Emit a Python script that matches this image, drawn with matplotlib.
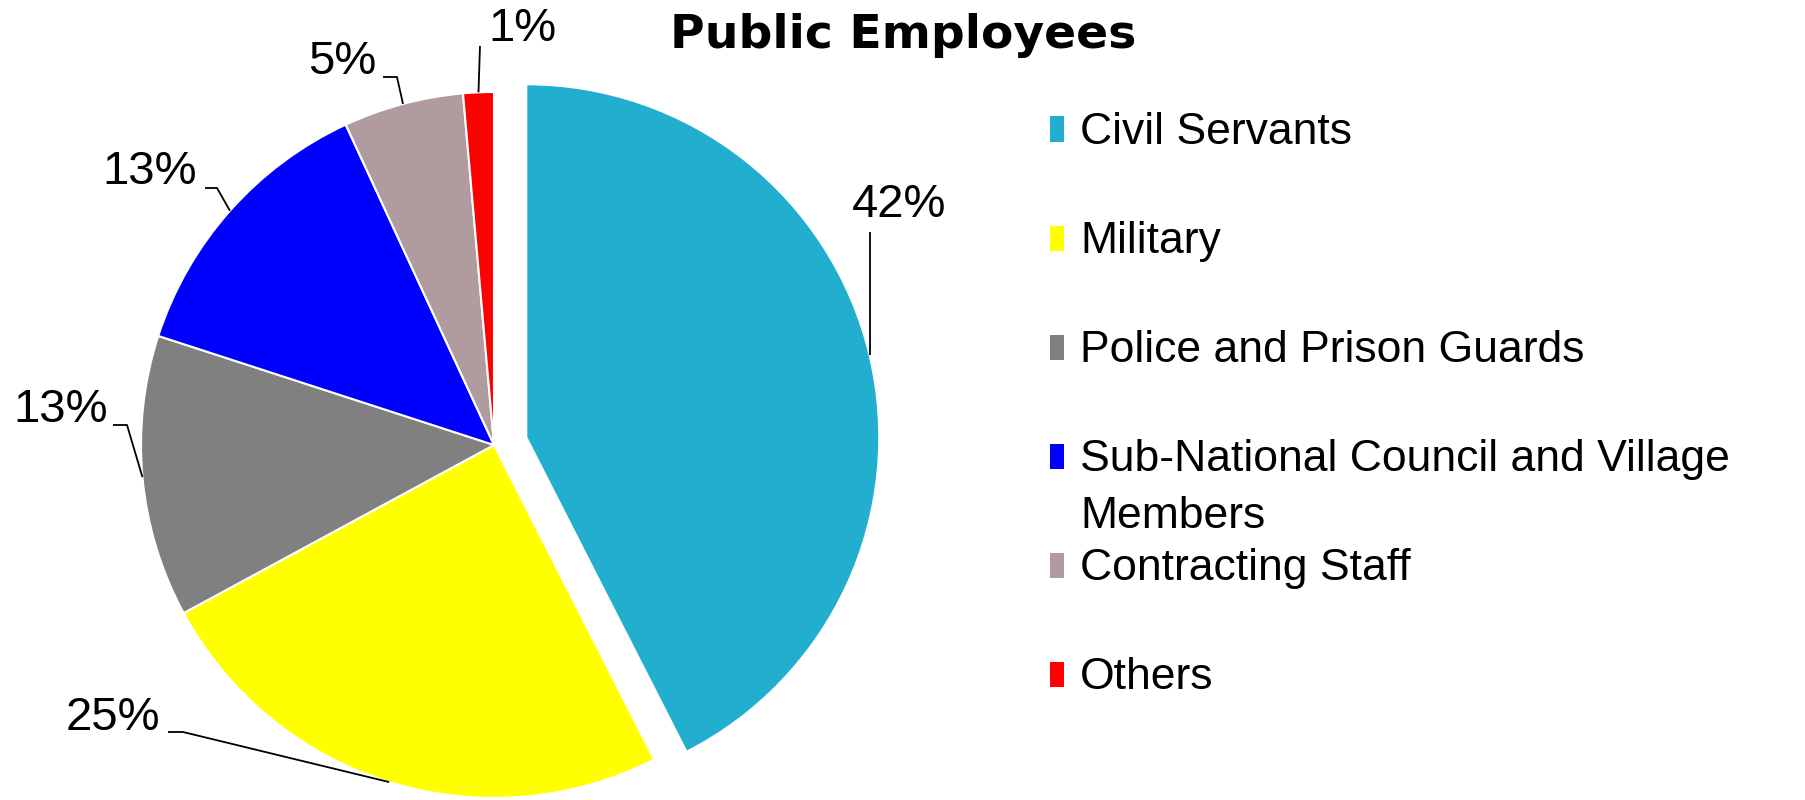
import matplotlib
matplotlib.use("Agg")
import matplotlib.pyplot as plt
from matplotlib.patches import Rectangle
import numpy as np

# data
categories = ["Civil Servants", "Military", "Police and Prison Guards",
              "Sub-National Council and Village\nMembers", "Contracting Staff", "Others"]
shares = [42.5, 24.6, 12.9, 13.1, 5.5, 1.4]
pct_labels = ["42%", "25%", "13%", "13%", "5%", "1%"]
colors = ["#21aecf", "#ffff00", "#808080", "#0000ff", "#b09c9e", "#ff0000"]
explode = [0.094, 0, 0, 0, 0, 0]

W, H = 1805, 800
CX, CY, R = 494, 445, 353   # pie centre / radius in pixels


def d(px, py):
    # pixel position -> data coords (pie radius = 1)
    return (px - CX) / R, (CY - py) / R


# text centre and leader-line points (pixels) for each percentage label
# (None for x = keep the rim x, i.e. a vertical leader)
label_text = [(899, 205), (113, 718), (61, 410), (150, 172), (342, 62), (522, 29)]
label_line = [
    [(None, 232)],
    [(183, 732), (168, 732)],
    [(127, 425), (113, 425)],
    [(217, 188), (205, 188)],
    [(397, 77), (383, 77)],
    [(480, 46)],
]

plt.rcParams['font.family'] = ['Liberation Sans', 'DejaVu Sans']

fig = plt.figure(figsize=(W / 100, H / 100), dpi=100)
ax = fig.add_axes([0, 0, 1, 1])

wedges, _ = ax.pie(shares, colors=colors, explode=explode, startangle=90,
                   counterclock=False, radius=1,
                   wedgeprops=dict(edgecolor='white', linewidth=1.5))

ax.set_xlim(-CX / R, (W - CX) / R)
ax.set_ylim((CY - H) / R, CY / R)
ax.set_aspect('equal')
ax.axis('off')

# percentage labels with leader lines to the wedge mid-point on the rim
for w, txt, tpos, pts in zip(wedges, pct_labels, label_text, label_line):
    mid = np.deg2rad((w.theta1 + w.theta2) / 2)
    ex = w.center[0] + w.r * np.cos(mid)
    ey = w.center[1] + w.r * np.sin(mid)
    xs, ys = [ex], [ey]
    for px, py in pts:
        if px is None:
            xs.append(ex)
            ys.append(d(CX, py)[1])
        else:
            xs.append(d(px, py)[0])
            ys.append(d(px, py)[1])
    ax.plot(xs, ys, color='black', linewidth=1.3, solid_capstyle='butt')
    tx, ty = d(*tpos)
    ax.text(tx, ty, txt, fontsize=34, ha='center', va='center')

# title
tx, ty = d(903, 36)
ax.text(tx, ty, "Public Employees", fontsize=34, fontweight='bold',
        family=['DejaVu Sans'], ha='center', va='center')

# legend drawn by hand: fixed row pitch, wrapped label runs into the gap
sq_w, sq_h = 14, 25
for i, (name, c) in enumerate(zip(categories, colors)):
    yc = 129 + 109 * i
    x0, y0 = d(1050, yc + sq_h / 2)
    ax.add_patch(Rectangle((x0, y0), sq_w / R, sq_h / R, facecolor=c, edgecolor='none'))
    lx, ly = d(1080, yc - 17)
    ax.text(lx, ly, name, fontsize=32, ha='left', va='top', linespacing=1.5)

fig.savefig("out.png", dpi=100, facecolor='white')
